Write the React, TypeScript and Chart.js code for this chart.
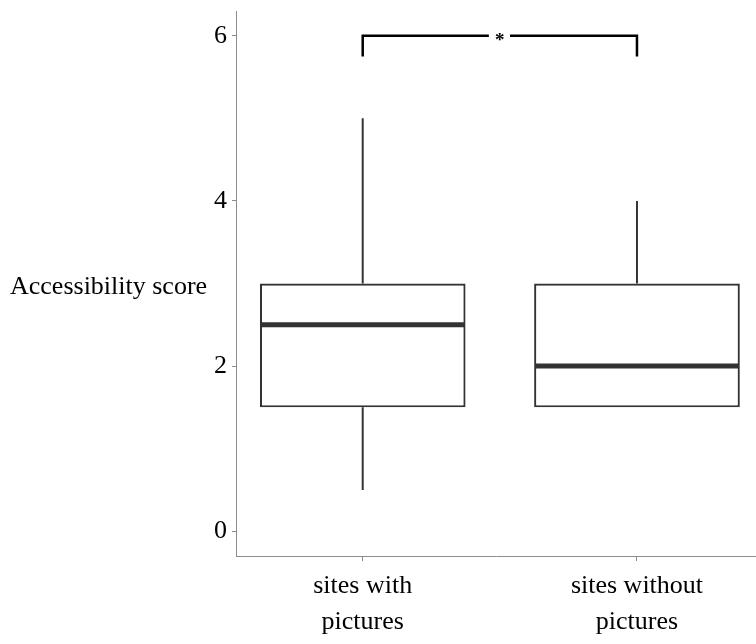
import React, { useEffect, useRef } from "react";
import { Chart, registerables } from "chart.js";

Chart.register(...registerables);

// ---- data ----
const categories = [["sites with", "pictures"], ["sites without", "pictures"]];
const positions = [1, 2];
const whiskerLow = [0.5, 1.5];
const q1 = [1.5, 1.5];
const median = [2.5, 2];
const q3 = [3, 3];
const whiskerHigh = [5, 4];
const yTicks = [0, 2, 4, 6];
const yTitle = "Accessibility score";
const bracketY = 6;
const bracketDrop = 5.75;
const bracketGap = [1.46, 1.537];
const sigLabel = "*";

const FONT = "'Liberation Serif', 'DejaVu Serif', serif";
const BOX = "#333333";
const AXIS = "#8c8c8c";

const boxPlugin = {
  id: "boxParts",
  beforeDatasetsDraw(chart: any) {
    const { ctx } = chart;
    const y = chart.scales.y;
    const meta = chart.getDatasetMeta(0);
    ctx.save();
    ctx.strokeStyle = BOX;
    ctx.lineWidth = 2;
    meta.data.forEach((el: any, i: number) => {
      const x = el.x;
      ctx.beginPath();
      ctx.moveTo(x, y.getPixelForValue(q3[i]));
      ctx.lineTo(x, y.getPixelForValue(whiskerHigh[i]));
      ctx.moveTo(x, y.getPixelForValue(q1[i]));
      ctx.lineTo(x, y.getPixelForValue(whiskerLow[i]));
      ctx.stroke();
    });
    ctx.restore();
  },
  afterDatasetsDraw(chart: any) {
    const { ctx, chartArea } = chart;
    const xs = chart.scales.x;
    const y = chart.scales.y;
    const meta = chart.getDatasetMeta(0);
    ctx.save();
    ctx.strokeStyle = BOX;
    ctx.lineWidth = 5;
    meta.data.forEach((el: any, i: number) => {
      const half = el.width / 2;
      const py = y.getPixelForValue(median[i]);
      ctx.beginPath();
      ctx.moveTo(el.x - half + 1, py);
      ctx.lineTo(el.x + half - 1, py);
      ctx.stroke();
    });
    // significance label
    ctx.fillStyle = "#000";
    ctx.font = `bold 19px ${FONT}`;
    ctx.textAlign = "center";
    ctx.textBaseline = "middle";
    const sx = xs.getPixelForValue((positions[0] + positions[1]) / 2);
    ctx.fillText(sigLabel, sx, y.getPixelForValue(bracketY) + 5);
    // horizontal y title
    ctx.font = `26px ${FONT}`;
    ctx.textAlign = "left";
    ctx.fillText(yTitle, 10, (chartArea.top + chartArea.bottom) / 2 + 4);
    ctx.restore();
  },
};

export default function App() {
  const ref = useRef<HTMLCanvasElement>(null);
  useEffect(() => {
    if (!ref.current) return;
    const chart = new Chart(ref.current, {
      type: "bar",
      data: {
        datasets: [
          {
            type: "bar",
            data: positions.map((p, i) => ({ x: p, y: [q1[i], q3[i]] })) as any,
            backgroundColor: "#ffffff",
            borderColor: BOX,
            borderWidth: 2.2,
            borderSkipped: false,
            barPercentage: 0.75,
            categoryPercentage: 1,
            order: 2,
          } as any,
          {
            type: "line",
            data: [
              { x: positions[0], y: bracketDrop },
              { x: positions[0], y: bracketY },
              { x: bracketGap[0], y: bracketY },
            ],
            borderColor: "#000",
            borderWidth: 2.5,
            pointRadius: 0,
            fill: false,
            order: 1,
          } as any,
          {
            type: "line",
            data: [
              { x: bracketGap[1], y: bracketY },
              { x: positions[1], y: bracketY },
              { x: positions[1], y: bracketDrop },
            ],
            borderColor: "#000",
            borderWidth: 2.5,
            pointRadius: 0,
            fill: false,
            order: 1,
          } as any,
        ],
      },
      options: {
        animation: false,
        responsive: false,
        layout: { padding: { top: 11, right: 0, left: 0, bottom: 0 } },
        plugins: { legend: { display: false }, tooltip: { enabled: false } },
        scales: {
          x: {
            type: "linear",
            offset: false,
            min: 0.538,
            max: 2.434,
            afterBuildTicks: (s: any) => {
              s.ticks = positions.map((v) => ({ value: v }));
            },
            afterFit: (s: any) => {
              s.height = 88;
              s.paddingLeft = 0;
              s.paddingRight = 0;
            },
            grid: { display: true, offset: false, drawOnChartArea: false, drawTicks: true, tickLength: 5, color: AXIS },
            border: { display: true, color: AXIS, width: 1 },
            ticks: {
              color: "#000",
              font: { family: FONT, size: 26, lineHeight: 1.38 },
              padding: 7,
              maxRotation: 0,
              autoSkip: false,
              callback: (v: any) => {
                const i = positions.indexOf(Number(v));
                return i >= 0 ? categories[i] : "";
              },
            },
          },
          y: {
            type: "linear",
            min: -0.3,
            max: 6.3,
            afterBuildTicks: (s: any) => {
              s.ticks = yTicks.map((v) => ({ value: v }));
            },
            afterFit: (s: any) => {
              s.width = 236;
              s.paddingTop = 0;
              s.paddingBottom = 0;
            },
            grid: { display: true, drawOnChartArea: false, drawTicks: true, tickLength: 4, color: AXIS },
            border: { display: true, color: AXIS, width: 1 },
            ticks: {
              color: "#000",
              font: { family: FONT, size: 26 },
              padding: 5,
            },
          },
        },
      } as any,
      plugins: [boxPlugin],
    });
    return () => chart.destroy();
  }, []);
  return (
    <div style={{ position: "fixed", left: 0, top: 0, width: 756, height: 644, background: "#fff" }}>
      <canvas ref={ref} width={756} height={644} style={{ width: 756, height: 644 }} />
    </div>
  );
}
